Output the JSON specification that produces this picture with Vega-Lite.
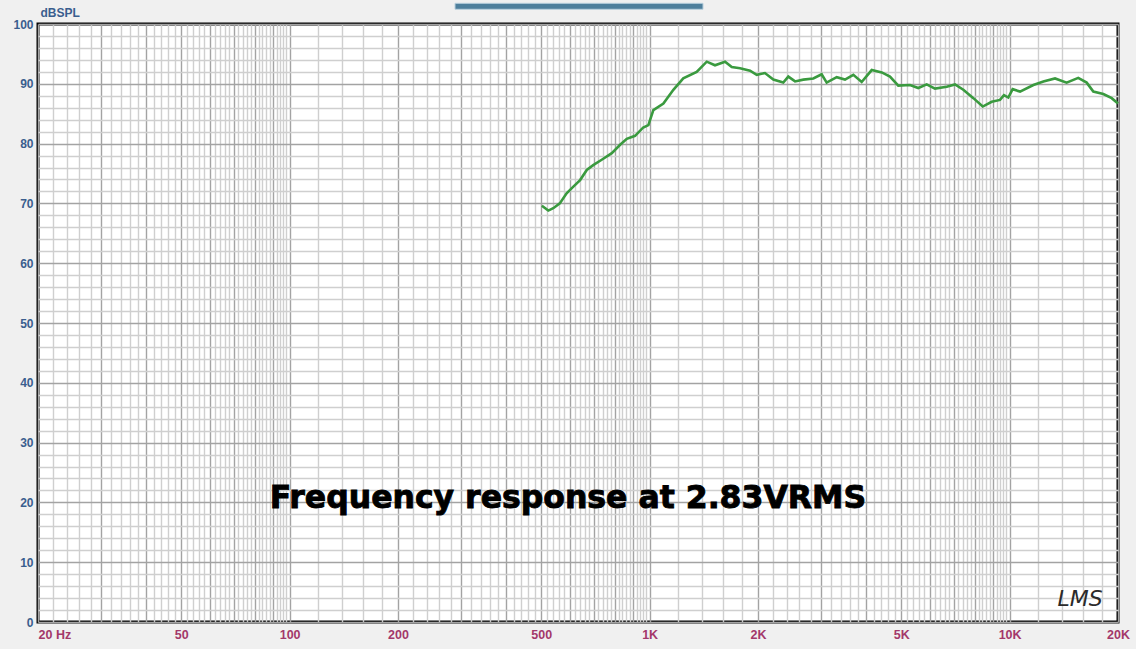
{
  "$schema": "https://vega.github.io/schema/vega-lite/v6.json",
  "width": 1080,
  "height": 598,
  "autosize": {"type": "none"},
  "padding": {"left": 38, "top": 24, "right": 18, "bottom": 27},
  "background": "#f0f0f0",
  "config": {
    "view": {"fill": "white", "stroke": "black", "strokeWidth": 3},
    "axis": {"domain": false, "ticks": false}
  },
  "datasets": {
    "curve": [
      {"f": 502, "db": 69.6}, {"f": 523, "db": 68.8}, {"f": 540, "db": 69.2}, {"f": 563, "db": 70.0},
      {"f": 588, "db": 71.7}, {"f": 614, "db": 72.8}, {"f": 641, "db": 73.9}, {"f": 669, "db": 75.6},
      {"f": 697, "db": 76.4}, {"f": 736, "db": 77.3}, {"f": 785, "db": 78.4}, {"f": 828, "db": 79.8},
      {"f": 864, "db": 80.8}, {"f": 911, "db": 81.3}, {"f": 960, "db": 82.7}, {"f": 992, "db": 83.1},
      {"f": 1024, "db": 85.6}, {"f": 1092, "db": 86.7}, {"f": 1164, "db": 89.0}, {"f": 1240, "db": 90.9},
      {"f": 1351, "db": 92.0}, {"f": 1441, "db": 93.7}, {"f": 1519, "db": 93.1}, {"f": 1620, "db": 93.7},
      {"f": 1691, "db": 92.8}, {"f": 1783, "db": 92.6}, {"f": 1901, "db": 92.2}, {"f": 1984, "db": 91.5},
      {"f": 2091, "db": 91.8}, {"f": 2206, "db": 90.7}, {"f": 2351, "db": 90.2}, {"f": 2428, "db": 91.2},
      {"f": 2535, "db": 90.4}, {"f": 2672, "db": 90.7}, {"f": 2849, "db": 90.9}, {"f": 3005, "db": 91.6},
      {"f": 3103, "db": 90.2}, {"f": 3309, "db": 91.1}, {"f": 3489, "db": 90.7}, {"f": 3680, "db": 91.5},
      {"f": 3882, "db": 90.3}, {"f": 4139, "db": 92.3}, {"f": 4414, "db": 91.9}, {"f": 4652, "db": 91.2},
      {"f": 4906, "db": 89.7}, {"f": 5287, "db": 89.8}, {"f": 5576, "db": 89.3}, {"f": 5883, "db": 89.9},
      {"f": 6204, "db": 89.2}, {"f": 6688, "db": 89.5}, {"f": 7051, "db": 89.9}, {"f": 7437, "db": 89.0},
      {"f": 7930, "db": 87.6}, {"f": 8420, "db": 86.2}, {"f": 8917, "db": 87.0}, {"f": 9402, "db": 87.3},
      {"f": 9646, "db": 88.1}, {"f": 9916, "db": 87.7}, {"f": 10196, "db": 89.1}, {"f": 10690, "db": 88.7},
      {"f": 11640, "db": 89.8}, {"f": 12410, "db": 90.4}, {"f": 13370, "db": 90.9}, {"f": 14400, "db": 90.2},
      {"f": 15510, "db": 91.0}, {"f": 16370, "db": 90.2}, {"f": 17080, "db": 88.7}, {"f": 18210, "db": 88.3},
      {"f": 19210, "db": 87.6}, {"f": 20000, "db": 86.7}
    ],
    "notes": [
      {"f": 593, "db": 20.5, "label": "Frequency response at 2.83VRMS"}
    ],
    "logo": [
      {"f": 15690, "db": 3.9, "label": "LMS"}
    ],
    "bar": [
      {"f1": 288, "f2": 1407, "d1": 102.46, "d2": 103.46}
    ]
  },
  "layer": [
    {
      "data": {"name": "curve"},
      "mark": {"type": "line", "color": "#3a9a3f", "strokeWidth": 2.6, "interpolate": "linear"},
      "encoding": {
        "x": {
          "field": "f", "type": "quantitative",
          "scale": {"type": "log", "domain": [20, 20000], "nice": false},
          "axis": {
            "title": null,
            "tickCount": 500,
            "values": [20,22,24,26,28,30,32,34,36,38,40,42,44,46,48,50,52,54,56,58,60,62,64,66,68,70,72,74,76,78,80,82,84,86,88,90,92,94,96,98,
              100,120,140,160,180,200,220,240,260,280,300,320,340,360,380,400,420,440,460,480,500,520,540,560,580,600,620,640,660,680,700,720,740,760,780,800,820,840,860,880,900,920,940,960,980,
              1000,1200,1400,1600,1800,2000,2200,2400,2600,2800,3000,3200,3400,3600,3800,4000,4200,4400,4600,4800,5000,5200,5400,5600,5800,6000,6200,6400,6600,6800,7000,7200,7400,7600,7800,8000,8200,8400,8600,8800,9000,9200,9400,9600,9800,
              10000,12000,14000,16000,18000,20000],
            "grid": true,
            "gridColor": {"condition": {"test": "abs(datum.value/pow(10,floor(log(datum.value)/LN10+1e-9)) - round(datum.value/pow(10,floor(log(datum.value)/LN10+1e-9)))) < 0.01", "value": "#a3a3a3"}, "value": "#cfcfcf"},
            "gridWidth": 1.4,
            "labelOverlap": false,
            "labelFlush": false,
            "labelExpr": "datum.value==20?'20  Hz':datum.value==50?'50':datum.value==100?'100':datum.value==200?'200':datum.value==500?'500':datum.value==1000?'1K':datum.value==2000?'2K':datum.value==5000?'5K':datum.value==10000?'10K':datum.value==20000?'20K':''",
            "labelAlign": {"condition": {"test": "datum.value==20", "value": "left"}, "value": "center"},
            "labelColor": "#a3386a",
            "labelFont": "Liberation Sans",
            "labelFontWeight": "bold",
            "labelFontSize": 12.5,
            "labelPadding": 6
          }
        },
        "y": {
          "field": "db", "type": "quantitative",
          "scale": {"domain": [0, 100], "nice": false, "zero": false},
          "axis": {
            "tickCount": 500,
            "format": "d",
            "values": [0,2,4,6,8,10,12,14,16,18,20,22,24,26,28,30,32,34,36,38,40,42,44,46,48,50,52,54,56,58,60,62,64,66,68,70,72,74,76,78,80,82,84,86,88,90,92,94,96,98,100],
            "grid": true,
            "gridColor": {"condition": {"test": "datum.value % 10 == 0", "value": "#a3a3a3"}, "value": "#cfcfcf"},
            "gridWidth": 1.4,
            "labelOverlap": false,
            "labelExpr": "datum.value % 10 == 0 ? format(datum.value, 'd') : ''",
            "labelColor": "#3a5e8e",
            "labelFont": "Liberation Sans",
            "labelFontWeight": "bold",
            "labelFontSize": 12,
            "labelPadding": 5,
            "title": "dBSPL",
            "titleAngle": 0,
            "titleAlign": "left",
            "titleBaseline": "alphabetic",
            "titleX": 2,
            "titleY": -8,
            "titleColor": "#3a5e8e",
            "titleFont": "Liberation Sans",
            "titleFontWeight": "bold",
            "titleFontSize": 12
          }
        }
      }
    },
    {
      "data": {"name": "notes"},
      "mark": {"type": "text", "font": "DejaVu Sans", "fontWeight": "bold", "fontSize": 31.5, "color": "black", "stroke": "black", "strokeWidth": 0.9, "align": "center", "baseline": "middle"},
      "encoding": {
        "x": {"field": "f", "type": "quantitative"},
        "y": {"field": "db", "type": "quantitative"},
        "text": {"field": "label"}
      }
    },
    {
      "data": {"name": "logo"},
      "mark": {"type": "text", "font": "DejaVu Sans", "fontStyle": "italic", "fontSize": 22, "color": "#2a2a2a", "align": "center", "baseline": "middle"},
      "encoding": {
        "x": {"field": "f", "type": "quantitative"},
        "y": {"field": "db", "type": "quantitative"},
        "text": {"field": "label"}
      }
    },
    {
      "data": {"name": "bar"},
      "mark": {"type": "rect", "fill": "#4e7f9c", "stroke": "#b9d0de", "strokeWidth": 1, "clip": false},
      "encoding": {
        "x": {"field": "f1", "type": "quantitative"},
        "x2": {"field": "f2"},
        "y": {"field": "d1", "type": "quantitative"},
        "y2": {"field": "d2"}
      }
    }
  ]
}
